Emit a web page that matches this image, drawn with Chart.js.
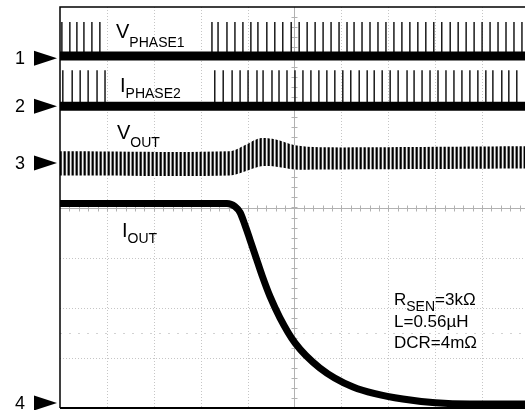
<!DOCTYPE html>
<html>
<head>
<meta charset="utf-8">
<script src="https://cdn.jsdelivr.net/npm/chart.js@4.4.0/dist/chart.umd.min.js"></script>
<style>
  html, body { margin: 0; padding: 0; background: #fff; }
  #scope { display: block; }
</style>
</head>
<body>
<canvas id="scope" width="525" height="410"></canvas>
<script>
// scope screen is 10 x 8 divisions, the window cuts it at ~9.9 divisions
const X_DIVS = 9.915;

// ground arrows for channels 1..4 (divisions)
const channelMarkers = [2.98, 2.02, 0.89, -3.9];

// ch1 - V_PHASE1: switching band level, pulse top and pulse positions
const phase1Level = 3.02;
const phase1Top = 3.70;
const phase1Pulses = [0.04, 0.21, 0.36, 0.51, 0.68, 0.85,
    3.24, 3.37, 3.56, 3.73, 3.90, 4.07, 4.22, 4.41, 4.58, 4.75, 4.93, 5.10,
    5.27, 5.44, 5.61, 5.78, 5.95, 6.12, 6.27, 6.44, 6.61, 6.78, 6.95, 7.12,
    7.29, 7.46, 7.63, 7.80, 7.97, 8.14, 8.32, 8.49, 8.66, 8.83, 9.00, 9.17,
    9.34, 9.51, 9.68, 9.85];

// ch2 - I_PHASE2
const phase2Level = 2.02;
const phase2Top = 2.74;
const phase2Pulses = [0.06, 0.26, 0.43, 0.60, 0.79, 0.96,
    3.30, 3.48, 3.67, 3.84, 4.01, 4.20, 4.33, 4.52, 4.67, 4.84, 5.01, 5.18,
    5.35, 5.52, 5.69, 5.86, 6.03, 6.20, 6.38, 6.55, 6.70, 6.87, 7.04, 7.21,
    7.40, 7.55, 7.72, 7.89, 8.06, 8.23, 8.40, 8.57, 8.74, 8.91, 9.08, 9.23,
    9.42, 9.57, 9.74];

// ch3 - V_OUT ripple envelope
const voutX    = [0, 3.62, 3.94, 4.26, 4.58, 5.01, 5.54, 9.915];
const voutHigh = [1.12, 1.12, 1.24, 1.38, 1.36, 1.24, 1.20, 1.22];
const voutLow  = [0.64, 0.64, 0.72, 0.82, 0.82, 0.76, 0.76, 0.78];

// ch4 - I_OUT load release
const ioutX = [0, 3.56, 3.73, 3.84, 3.94, 4.05, 4.18, 4.31, 4.48, 4.69, 5.01,
    5.54, 6.25, 7.31, 8.74, 9.915];
const ioutY = [0.08, 0.08, 0.02, -0.10, -0.34, -0.64, -1.00, -1.36, -1.78,
    -2.20, -2.70, -3.20, -3.58, -3.82, -3.92, -3.92];

const FONT = "'Liberation Sans', Arial, sans-serif";

function toPoints(xs, ys) {
    return xs.map((x, i) => ({x: x, y: ys[i]}));
}

function pulsePoints(pulses, level, top) {
    const pts = [];
    pulses.forEach(function(p) {
        pts.push({x: p, y: level}, {x: p, y: top}, {x: p, y: null});
    });
    return pts;
}

// vertical hatch to look like the ripple teeth
function ripplePattern() {
    const c = document.createElement('canvas');
    c.width = 4; c.height = 1;
    const g = c.getContext('2d');
    const cols = ['#000', '#3a3a3a', '#f4f4f4', '#8a8a8a'];
    for (let i = 0; i < 4; i++) {
        g.fillStyle = cols[i];
        g.fillRect(i, 0, 1, 1);
    }
    return g.createPattern(c, 'repeat');
}

function drawSub(ctx, x, y, main, sub, mainSize, subSize, drop) {
    ctx.font = mainSize + "px " + FONT;
    ctx.fillText(main, x, y);
    const w = ctx.measureText(main).width;
    ctx.font = subSize + "px " + FONT;
    ctx.fillText(sub, x + w, y + drop);
    return x + w + ctx.measureText(sub).width;
}

const scopePlugin = {
    id: 'scope',
    beforeDatasetsDraw(chart) {
        const {ctx, chartArea: a, scales: {x, y}} = chart;
        ctx.save();
        ctx.lineWidth = 1;
        ctx.strokeStyle = '#c6c6c6';
        ctx.setLineDash([1, 2]);
        for (let i = 1; i < 10; i++) {
            if (i == 5) continue;
            const px = Math.round(x.getPixelForValue(i)) + 0.5;
            ctx.beginPath(); ctx.moveTo(px, a.top); ctx.lineTo(px, a.bottom); ctx.stroke();
        }
        for (let j = -3; j <= 3; j++) {
            if (j == 0) continue;
            const py = Math.round(y.getPixelForValue(j)) + 0.5;
            ctx.beginPath(); ctx.moveTo(a.left, py); ctx.lineTo(a.right, py); ctx.stroke();
        }
        // faint cursor row
        ctx.strokeStyle = '#d2d2d2';
        ctx.setLineDash([2, 7]);
        const cr = Math.round(y.getPixelForValue(-2.5)) + 0.5;
        ctx.beginPath(); ctx.moveTo(a.left, cr); ctx.lineTo(a.right, cr); ctx.stroke();

        // centre axes with minor ticks
        ctx.setLineDash([]);
        ctx.strokeStyle = '#b2b2b2';
        const cx = Math.round(x.getPixelForValue(5)) + 0.5;
        const cy = Math.round(y.getPixelForValue(0)) + 0.5;
        ctx.beginPath();
        ctx.moveTo(cx, a.top); ctx.lineTo(cx, a.bottom);
        ctx.moveTo(a.left, cy); ctx.lineTo(a.right, cy);
        for (let t = 0.2; t < 10; t += 0.2) {
            const px = Math.round(x.getPixelForValue(t)) + 0.5;
            ctx.moveTo(px, cy - 3); ctx.lineTo(px, cy + 3);
        }
        for (let t = -3.8; t < 4; t += 0.2) {
            const py = Math.round(y.getPixelForValue(t)) + 0.5;
            ctx.moveTo(cx - 3, py); ctx.lineTo(cx + 3, py);
        }
        ctx.stroke();
        ctx.restore();
    },
    afterDatasetsDraw(chart) {
        const {ctx, chartArea: a, scales: {x, y}} = chart;
        ctx.save();
        // frame (right edge falls outside the window)
        ctx.strokeStyle = '#000';
        ctx.lineWidth = 1.5;
        ctx.beginPath();
        ctx.moveTo(a.right, a.top); ctx.lineTo(a.left, a.top); ctx.lineTo(a.left, a.bottom);
        ctx.stroke();
        ctx.lineWidth = 2;
        ctx.beginPath();
        ctx.moveTo(a.left, a.bottom); ctx.lineTo(a.right, a.bottom);
        ctx.stroke();

        // channel ground markers
        ctx.fillStyle = '#000';
        ctx.textAlign = 'right';
        ctx.textBaseline = 'middle';
        ctx.font = "18px " + FONT;
        channelMarkers.forEach(function(v, i) {
            const py = y.getPixelForValue(v);
            ctx.beginPath();
            ctx.moveTo(a.left - 3, py);
            ctx.lineTo(a.left - 26, py - 7.5);
            ctx.lineTo(a.left - 26, py + 7.5);
            ctx.closePath();
            ctx.fill();
            ctx.fillText(String(i + 1), a.left - 35, py + 1);
        });

        // trace labels
        ctx.textAlign = 'left';
        ctx.textBaseline = 'alphabetic';
        drawSub(ctx, 116, 38, 'V', 'PHASE1', 20, 14, 9);
        drawSub(ctx, 120, 92, 'I', 'PHASE2', 20, 14, 6);
        drawSub(ctx, 117, 139, 'V', 'OUT', 20, 14, 8);
        drawSub(ctx, 122, 237, 'I', 'OUT', 20, 14, 6);

        // test conditions
        const ex = drawSub(ctx, 394, 305, 'R', 'SEN', 17, 14, 6);
        ctx.font = "17px " + FONT;
        ctx.fillText('=3k\u03A9', ex, 305);
        ctx.fillText('L=0.56\u00B5H', 394, 327);
        ctx.fillText('DCR=4m\u03A9', 394, 348);
        ctx.restore();
    }
};

const canvas = document.getElementById('scope');

new Chart(canvas, {
    type: 'line',
    data: {
        datasets: [
            { data: [{x: 0, y: phase1Level}, {x: X_DIVS, y: phase1Level}],
              borderColor: '#000', borderWidth: 9 },
            { data: pulsePoints(phase1Pulses, phase1Level, phase1Top),
              borderColor: '#1a1a1a', borderWidth: 1.5, spanGaps: false },
            { data: [{x: 0, y: phase2Level}, {x: X_DIVS, y: phase2Level}],
              borderColor: '#000', borderWidth: 9 },
            { data: pulsePoints(phase2Pulses, phase2Level, phase2Top),
              borderColor: '#1a1a1a', borderWidth: 1.5, spanGaps: false },
            { data: toPoints(voutX, voutLow), borderWidth: 0,
              borderColor: 'rgba(0,0,0,0)', tension: 0.3 },
            { data: toPoints(voutX, voutHigh), borderWidth: 0,
              borderColor: 'rgba(0,0,0,0)', tension: 0.3,
              fill: '-1', backgroundColor: ripplePattern() },
            { data: toPoints(ioutX, ioutY), borderColor: '#000', borderWidth: 7,
              cubicInterpolationMode: 'monotone', borderCapStyle: 'butt' }
        ]
    },
    options: {
        responsive: false,
        animation: false,
        layout: { padding: { left: 60, top: 7, right: 0, bottom: 2 } },
        elements: { point: { radius: 0 } },
        plugins: { legend: { display: false }, tooltip: { enabled: false } },
        scales: {
            x: { type: 'linear', min: 0, max: X_DIVS, display: false },
            y: { type: 'linear', min: -4, max: 4, display: false }
        }
    },
    plugins: [scopePlugin]
});
</script>
</body>
</html>
